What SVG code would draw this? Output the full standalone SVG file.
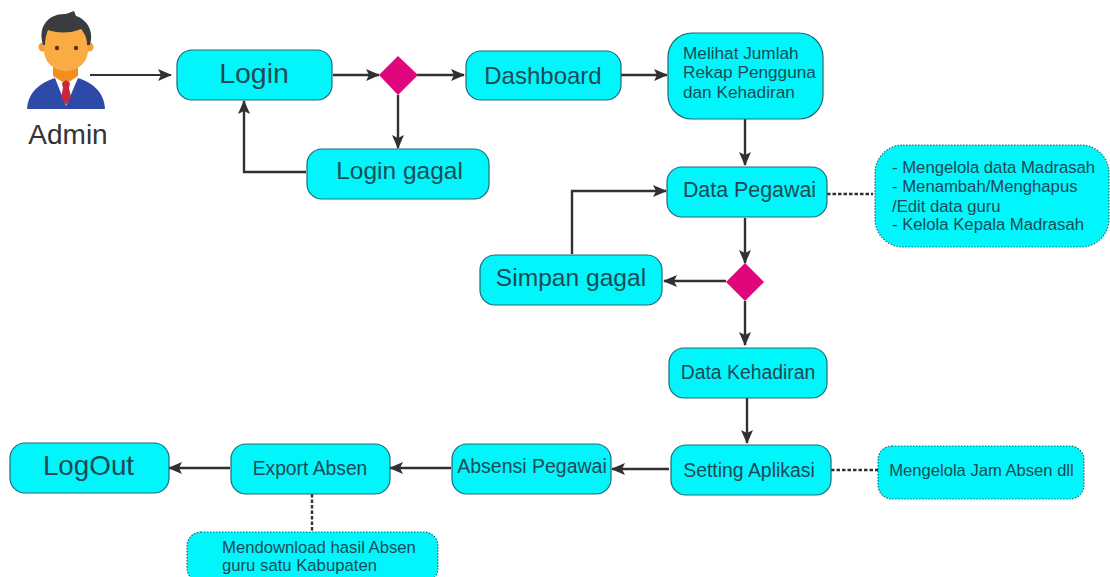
<svg xmlns="http://www.w3.org/2000/svg" width="1110" height="577" viewBox="0 0 1110 577">
<style>
text{font-family:"Liberation Sans",Arial,sans-serif;fill:#1c4a55}
.n{fill:#00f6fb;stroke:#1d6a78;stroke-width:1.2}
.d{fill:#00f6fb;stroke:#1d6a78;stroke-width:1.2;stroke-dasharray:1.5 1.5}
.m{fill:#e0077d}
.c{fill:none;stroke:#333033;stroke-width:2.4}
.k{fill:none;stroke:#333033;stroke-width:2.4;stroke-dasharray:3.5 2}
.m1{text-anchor:middle}
</style>
<defs>
<marker id="a" viewBox="0 0 14 12" refX="13" refY="6" markerWidth="14" markerHeight="12" markerUnits="userSpaceOnUse" orient="auto"><path d="M0 0L14 6L0 12L3 6Z" fill="#333033"/></marker>
</defs>
<rect width="1110" height="577" fill="#fff"/>
<g id="connectors">
<path class="c" style="stroke-width:1.8" d="M90 75H171" marker-end="url(#a)"/>
<path class="c" d="M333 75H379" marker-end="url(#a)"/>
<path class="c" d="M417 75H464" marker-end="url(#a)"/>
<path class="c" d="M398 95V148" marker-end="url(#a)"/>
<path class="c" d="M306 172H244V101" marker-end="url(#a)"/>
<path class="c" d="M621 75H667" marker-end="url(#a)"/>
<path class="c" d="M745 119V165" marker-end="url(#a)"/>
<path class="c" d="M572 254V191H666" marker-end="url(#a)"/>
<path class="c" d="M745 218V263" marker-end="url(#a)"/>
<path class="c" d="M726 281H664" marker-end="url(#a)"/>
<path class="c" d="M745 301V345" marker-end="url(#a)"/>
<path class="c" d="M747 398V443" marker-end="url(#a)"/>
<path class="c" d="M669 469H612" marker-end="url(#a)"/>
<path class="c" d="M451 468H390" marker-end="url(#a)"/>
<path class="c" d="M230 468H169" marker-end="url(#a)"/>
<path class="k" d="M827 194H873"/>
<path class="k" d="M831 470H878"/>
<path class="k" d="M312 494V531"/>
</g>
<g id="admin">
<path d="M27 109C28 92 40 83 55 78H78C93 83 104 92 105 109Z" fill="#2d4aa8"/>
<path d="M55 78L66 106L78 78Z" fill="#fff"/>
<path d="M53 66H78V76L66 84L53 76Z" fill="#f08f1e"/>
<path d="M62 83L66 80L70 83L69 88L71 97L66 105L61 97L63 88Z" fill="#c8283c"/>
<circle cx="43" cy="47" r="4.5" fill="#f2a035"/><circle cx="89" cy="47" r="4.5" fill="#f2a035"/>
<path d="M44 28H88V50C88 62 78 71 66 71C54 71 44 62 44 50Z" fill="#fbab43"/>
<path d="M43 45C37 25 50 13 66 14L74 11L76 16C88 20 94 32 90 45L87 45C87 38 85 34 81 29C70 34 56 33 48 30C46 35 45 40 45 45Z" fill="#3a3c40"/>
<circle cx="57" cy="48" r="2.2" fill="#5a3218"/><circle cx="76" cy="48" r="2.2" fill="#5a3218"/>
<text x="68" y="144" font-size="28" class="m1" style="fill:#333">Admin</text>
</g>
<g id="login"><rect class="n" x="177" y="50" width="155" height="50" rx="15"/><text x="254" y="83" font-size="28.5" class="m1">Login</text></g>
<g id="decision1"><path class="m" d="M398 56L418 75L398 95L379 75Z"/></g>
<g id="dashboard"><rect class="n" x="466" y="51" width="155" height="49" rx="15"/><text x="543" y="84" font-size="24" class="m1">Dashboard</text></g>
<g id="rekap"><rect class="n" x="668" y="33" width="155" height="86" rx="24"/><text font-size="17.2"><tspan x="683" y="59">Melihat Jumlah</tspan><tspan x="683" y="78">Rekap Pengguna</tspan><tspan x="683" y="98">dan Kehadiran</tspan></text></g>
<g id="login-gagal"><rect class="n" x="307" y="149" width="182" height="50" rx="15"/><text x="399.5" y="179" font-size="24.5" class="m1">Login gagal</text></g>
<g id="data-pegawai"><rect class="n" x="667" y="167" width="160" height="50" rx="15"/><text x="749.5" y="197" font-size="21.4" class="m1">Data Pegawai</text></g>
<g id="note-pegawai"><rect class="d" x="875" y="145" width="234" height="102" rx="28"/><text font-size="16.7"><tspan x="892" y="173">- Mengelola data Madrasah</tspan><tspan x="892" y="192">- Menambah/Menghapus</tspan><tspan x="892" y="212">/Edit data guru</tspan><tspan x="892" y="230">- Kelola Kepala Madrasah</tspan></text></g>
<g id="simpan-gagal"><rect class="n" x="480" y="255" width="182" height="50" rx="15"/><text x="571" y="286" font-size="24.6" class="m1">Simpan gagal</text></g>
<g id="decision2"><path class="m" d="M745 263L764 282L745 301L726 282Z"/></g>
<g id="data-kehadiran"><rect class="n" x="669" y="348" width="158" height="50" rx="15"/><text x="748" y="379" font-size="19.4" class="m1">Data Kehadiran</text></g>
<g id="setting"><rect class="n" x="671" y="445" width="160" height="50" rx="15"/><text x="749" y="477" font-size="19.4" class="m1">Setting Aplikasi</text></g>
<g id="note-jam"><rect class="d" x="878" y="446" width="206" height="53" rx="14"/><text x="981.5" y="476" font-size="16.6" class="m1">Mengelola Jam Absen dll</text></g>
<g id="absensi"><rect class="n" x="452" y="444" width="159" height="50" rx="15"/><text x="532" y="473" font-size="19.5" class="m1">Absensi Pegawai</text></g>
<g id="export"><rect class="n" x="231" y="444" width="159" height="50" rx="15"/><text x="310" y="475" font-size="19.3" class="m1">Export Absen</text></g>
<g id="logout"><rect class="n" x="10" y="443" width="159" height="50" rx="15"/><text x="88.5" y="475" font-size="27.8" class="m1">LogOut</text></g>
<g id="note-export"><rect class="d" x="187" y="532" width="251" height="50" rx="14"/><text font-size="16.7"><tspan x="222" y="553">Mendownload hasil Absen</tspan><tspan x="222" y="571">guru satu Kabupaten</tspan></text></g>
</svg>
